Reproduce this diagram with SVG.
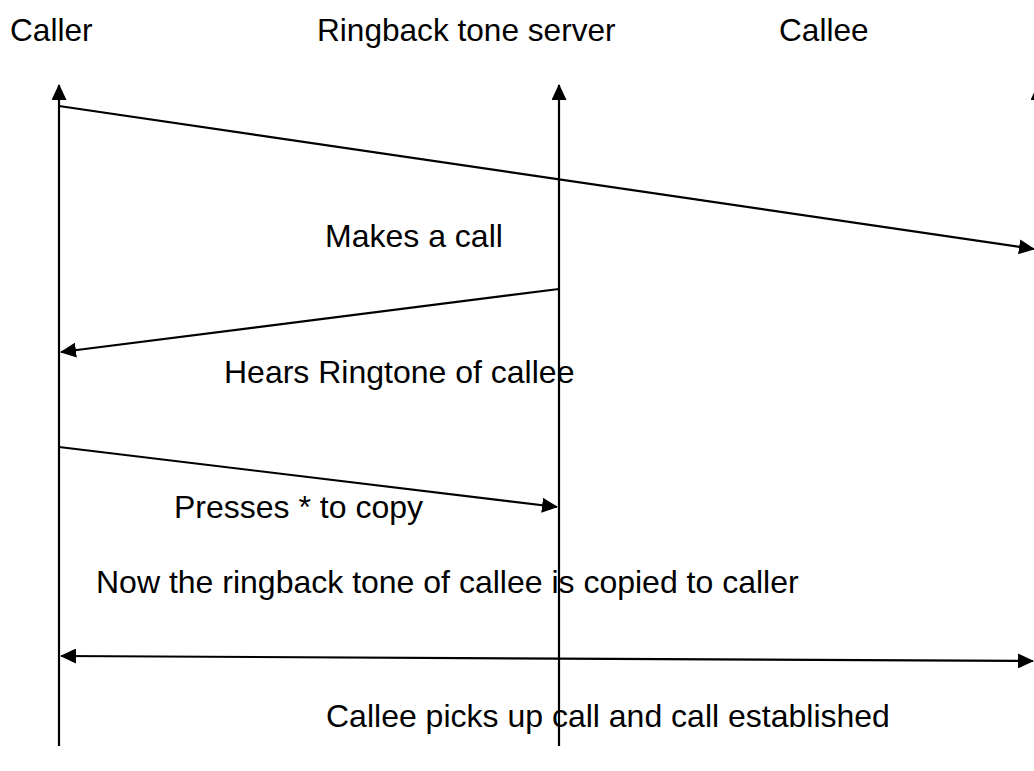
<svg xmlns="http://www.w3.org/2000/svg" width="1034" height="771" viewBox="0 0 1034 771">
<style>
text{font-family:"Liberation Sans",Arial,sans-serif;font-size:32px;fill:#000}
text.hd{font-size:31.6px}
.ln{stroke:#000;stroke-width:2.2;fill:none}
</style>
<defs>
<marker id="ah" viewBox="0 0 16 15" refX="15" refY="7.5" markerWidth="16" markerHeight="15" markerUnits="userSpaceOnUse" orient="auto-start-reverse">
<path d="M0,0 L16,7.5 L0,15 Z" fill="#000"/>
</marker>
</defs>
<rect width="1034" height="771" fill="#fff"/>
<g id="caller">
<text class="hd" x="10" y="41">Caller</text>
<line class="ln" x1="59" y1="746" x2="59" y2="85" marker-end="url(#ah)"/>
</g>
<g id="server">
<text class="hd" x="317" y="41">Ringback tone server</text>
<line class="ln" x1="559" y1="746" x2="559" y2="85" marker-end="url(#ah)"/>
</g>
<g id="callee">
<text class="hd" x="779" y="41">Callee</text>
<line class="ln" x1="1038" y1="746" x2="1038" y2="85" marker-end="url(#ah)"/>
</g>
<g id="connectors">
<line class="ln" x1="59" y1="106" x2="1034" y2="249" marker-end="url(#ah)"/>
<text x="325" y="247">Makes a call</text>
<line class="ln" x1="559" y1="289" x2="61" y2="352" marker-end="url(#ah)"/>
<text x="224" y="383">Hears Ringtone of callee</text>
<line class="ln" x1="59" y1="447" x2="557" y2="507" marker-end="url(#ah)"/>
<text x="174" y="518">Presses * to copy</text>
<text x="96" y="593">Now the ringback tone of callee is copied to caller</text>
<line class="ln" x1="61" y1="656" x2="1033" y2="661" marker-start="url(#ah)" marker-end="url(#ah)"/>
<text x="326" y="727">Callee picks up call and call established</text>
</g>
</svg>
